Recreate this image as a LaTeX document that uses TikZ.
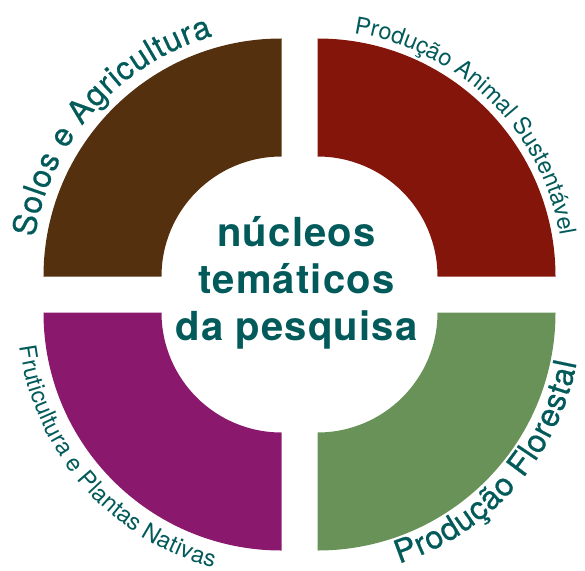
\documentclass[tikz,border=0pt]{standalone}
\usepackage{fontspec}
\setmainfont{TeX Gyre Heros}
\newfontfamily\corefont[LetterSpace=3]{TeX Gyre Heros}
\newfontfamily\ringfont[FakeBold=0.6]{TeX Gyre Heros}
\usetikzlibrary{decorations.text}

\definecolor{ink}{HTML}{035A5A}
\definecolor{soil}{HTML}{55300F}
\definecolor{animal}{HTML}{84150A}
\definecolor{fruit}{HTML}{8A196E}
\definecolor{forest}{HTML}{689257}

\newcommand\arcbig{\ringfont\fontsize{32}{32}\selectfont}
\newcommand\arcsmall{\fontsize{23.5}{23.5}\selectfont}

\begin{document}
\begin{tikzpicture}[x=1pt,y=1pt,
  arclabel/.style={decorate,decoration={text along path,text={#1},
    text align={fit to path},text color=ink}}]
  \useasboundingbox (-299.5,-275.5) rectangle (285.5,294.5);

  % Quadrants
  \foreach \col/\cx/\cy/\a in {soil/-18/18/180,animal/18/18/90,
                               forest/18/-18/0,fruit/-18/-18/270} {
    \fill[\col] (\cx,\cy) ++(\a:238) arc[start angle=\a,end angle=\a-90,radius=238]
      -- ++(\a-90:-118) arc[start angle=\a-90,end angle=\a,radius=120] -- cycle;
  }

  % Labels round the ring
  \path[arclabel={|\arcbig|Solos e Agricultura}]
    (-18,18) ++(171:250) arc[start angle=171,end angle=106,radius=250];
  \path[arclabel={|\arcsmall|Produção Animal Sustentável}]
    (18,18) ++(81.5:246) arc[start angle=81.5,end angle=9.5,radius=246];
  \path[arclabel={|\arcsmall|Fruticultura e Plantas Nativas}]
    (-18,-18) ++(187.5:264) arc[start angle=187.5,end angle=255,radius=264];
  \path[arclabel={|\arcbig|Produção Florestal}]
    (18,-18) ++(-72:264) arc[start angle=-72,end angle=-11,radius=264];

  % Centre
  \node[font=\corefont\bfseries\fontsize{40}{47}\selectfont,text=ink,
    align=center,anchor=base] (core) at (-3,-45.5) {núcleos\\temáticos\\da pesquisa};
\end{tikzpicture}
\end{document}
